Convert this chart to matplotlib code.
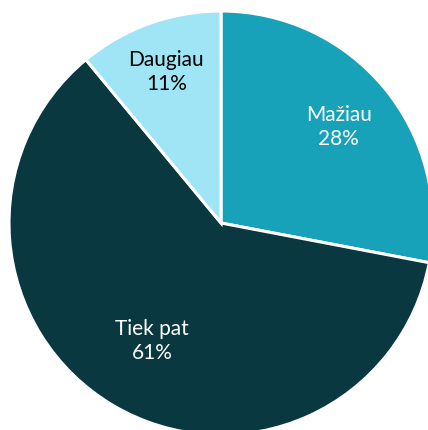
import numpy as np
import matplotlib.pyplot as plt

labels = ['Mažiau', 'Tiek pat', 'Daugiau']
shares = [28, 61, 11]
colors = ['#17A2BA', '#093841', '#9FE5F5']
text_colors = ['white', 'white', 'black']
label_dist = [0.72, 0.64, 0.76]

fig = plt.figure(figsize=(4.28, 4.31), dpi=100)
ax = fig.add_axes([0, 0, 1, 1])

wedges, _ = ax.pie(shares, colors=colors, startangle=90, counterclock=False,
                   center=(221, 207), radius=212,
                   wedgeprops=dict(edgecolor='white', linewidth=2.2))
ax.set_xlim(0, 428)
ax.set_ylim(0, 431)
ax.set_aspect('equal')
ax.axis('off')

for w, lab, val, tc, d in zip(wedges, labels, shares, text_colors, label_dist):
    mid = np.deg2rad((w.theta1 + w.theta2) / 2)
    x = 221 + 212 * d * np.cos(mid)
    y = 207 + 212 * d * np.sin(mid)
    ax.text(x, y, f'{lab}\n{val}%', ha='center', va='center', color=tc,
            fontsize=15, family='Lato', linespacing=1.25)

plt.savefig('out.png', dpi=100)
